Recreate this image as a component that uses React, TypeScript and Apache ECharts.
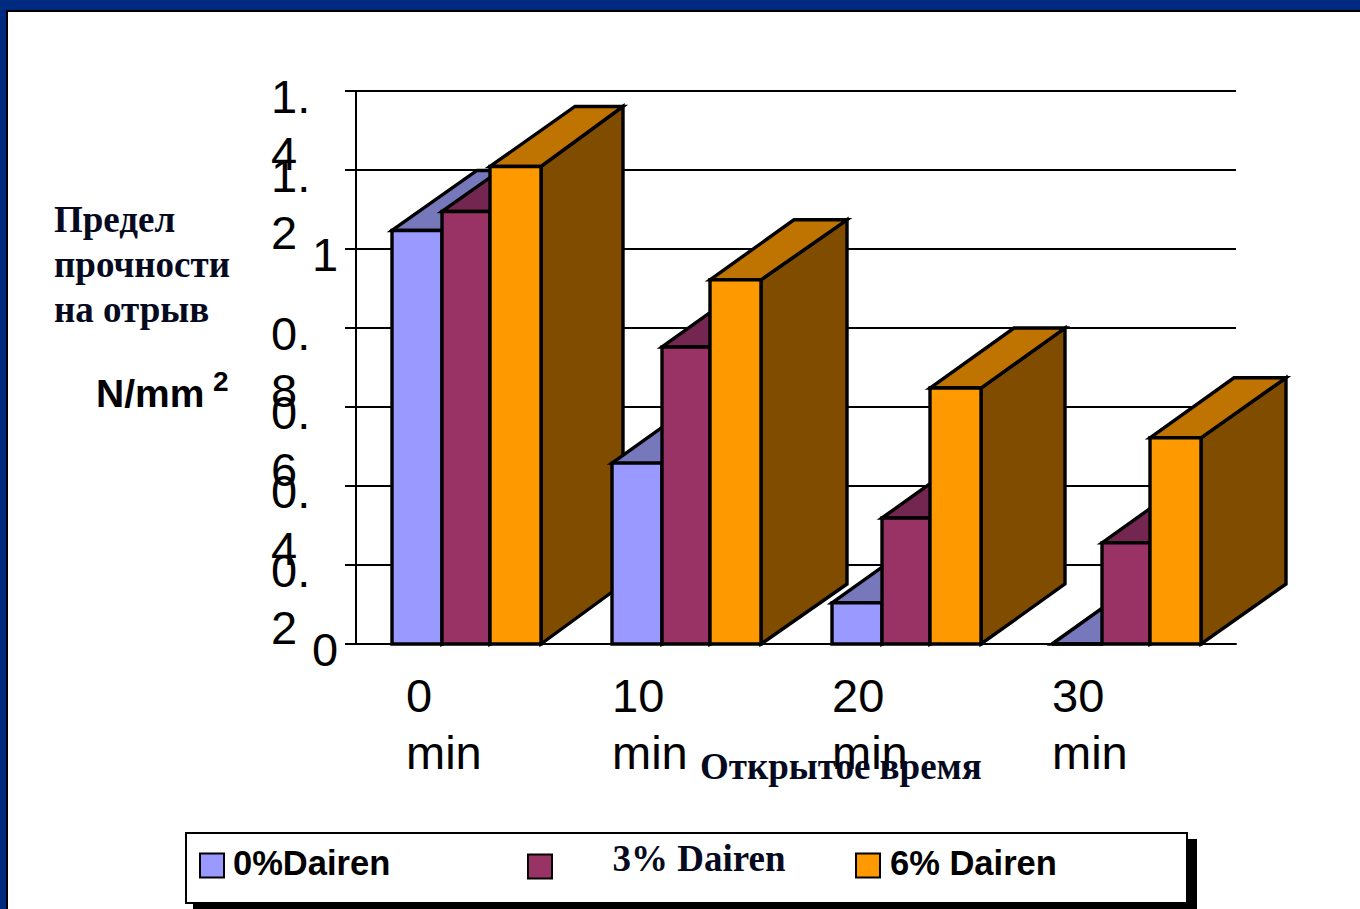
import React, { useEffect, useRef } from "react";
import * as echarts from "echarts";

const categories = ["0 min", "10 min", "20 min", "30 min"];
const seriesNames = ["0%Dairen", "3% Dairen", "6% Dairen"];
const dairen0 = [1.047, 0.458, 0.104, 0];
const dairen3 = [1.095, 0.752, 0.319, 0.256];
const dairen6 = [1.209, 0.922, 0.648, 0.522];
const labelsOnFirstAxis = ["0.2", "0.6", "1", "1.4"];
const labelsOnSecondAxis = ["0", "0.4", "0.8", "1.2"];

const SANS = "'Liberation Sans', Arial, sans-serif";
const SERIF = "'Liberation Serif', 'Times New Roman', serif";
const INK = "#050a20";

const faces = [
  { front: "#9999FF", top: "#7777BB", side: "#4D4D80", left: -74, right: -24 },
  { front: "#993366", top: "#732650", side: "#4D1A33", left: -24, right: 24 },
  { front: "#FF9900", top: "#BF7300", side: "#804D00", left: 24, right: 75 },
];
const depthLeft = [85, 84, 84, 84];
const depthRight = [82, 86, 84, 85];
const DY = -60;

function makeSeries(idx: number, name: string, values: number[]) {
  const face = faces[idx];
  return {
    type: "custom",
    name,
    coordinateSystem: "cartesian2d",
    xAxisIndex: 0,
    yAxisIndex: 0,
    itemStyle: { color: face.front, borderColor: "#000", borderWidth: 3 },
    encode: { x: 0, y: 1 },
    data: values.map((v, i) => [i, v]),
    renderItem: (_p: any, api: any) => {
      const cat = api.value(0);
      const top = api.coord([cat, api.value(1)]);
      const base = api.coord([cat, 0]);
      const xl = base[0] + face.left;
      const xr = base[0] + face.right;
      const bl = xl + depthLeft[cat];
      const br = xr + depthRight[cat];
      const yt = top[1];
      const yb = base[1];
      const z2 = cat * 10 + idx;
      const stroke = { stroke: "#000", lineWidth: 3.4, lineJoin: "miter" };
      const poly = (points: number[][], fill: string) => ({
        type: "polygon",
        z2,
        shape: { points },
        style: { fill, ...stroke },
      });
      return {
        type: "group",
        children: [
          poly([[xr, yt], [br, yt + DY], [br, yb + DY], [xr, yb]], face.side),
          poly([[xl, yt], [bl, yt + DY], [br, yt + DY], [xr, yt]], face.top),
          poly([[xl, yt], [xr, yt], [xr, yb], [xl, yb]], face.front),
        ],
      };
    },
  };
}

function yLabel(allowed: string[]) {
  return (v: number) => {
    const s = String(Math.round(v * 10) / 10);
    if (!allowed.includes(s)) return "";
    if (!s.includes(".")) return `{c|${s}}`;
    const [a, b] = s.split(".");
    return `{a|${a}.}\n{b|${b}}`;
  };
}

function xLabel(v: string) {
  const [n, u] = v.split(" ");
  const style = n.length === 1 ? "o" : "p";
  return `{${style}|${n}}\n{${style}|${u}}`;
}

export default function App() {
  const ref = useRef<HTMLDivElement>(null);
  useEffect(() => {
    document.body.style.margin = "0";
    const chart = echarts.init(ref.current!, undefined, { renderer: "svg" });
    const fs = 47;
    const legendBase = {
      icon: "rect",
      itemWidth: 24,
      itemHeight: 24,
      itemGap: 0,
      padding: 0,
      selectedMode: false,
      formatter: (n: string) => `{t|${n}}`,
    };
    const yRich = {
      a: { fontFamily: SANS, fontSize: fs, lineHeight: 10, color: "#000" },
      b: { fontFamily: SANS, fontSize: fs, lineHeight: 104, color: "#000" },
      c: { fontFamily: SANS, fontSize: fs, lineHeight: 10, color: "#000", padding: [0, 0, 0, 41] },
    };
    const sansLegend = (leftPad: number) => ({
      rich: {
        t: { fontFamily: SANS, fontWeight: "bold", fontSize: 34.5, color: "#000", padding: [0, 0, 6, leftPad] },
      },
    });
    chart.setOption({
      animation: false,
      backgroundColor: "#fff",
      grid: { left: 356, top: 91, width: 880, height: 553, containLabel: false },
      xAxis: {
        type: "category",
        data: categories,
        axisLine: { lineStyle: { color: "#000", width: 2 } },
        axisTick: { show: false },
        axisLabel: {
          interval: 0,
          align: "left",
          verticalAlign: "top",
          margin: 23,
          padding: [0, 0, 0, -74],
          formatter: xLabel,
          rich: {
            p: { fontFamily: SANS, fontSize: fs, lineHeight: 57, color: "#000" },
            o: { fontFamily: SANS, fontSize: fs, lineHeight: 57, color: "#000", padding: [0, 0, 0, 14] },
          },
        },
      },
      yAxis: [
        {
          type: "value",
          min: 0,
          max: 1.4,
          interval: 0.2,
          axisLine: { show: true, lineStyle: { color: "#000", width: 2 } },
          axisTick: { show: true, length: 11, lineStyle: { color: "#000", width: 2 } },
          splitLine: { show: true, lineStyle: { color: "#000", width: 2 } },
          axisLabel: {
            align: "left",
            verticalAlign: "top",
            margin: 85,
            showMaxLabel: true,
            formatter: yLabel(labelsOnFirstAxis),
            rich: yRich,
          },
        },
        {
          type: "value",
          position: "left",
          min: 0,
          max: 1.4,
          interval: 0.2,
          axisLine: { show: false },
          axisTick: { show: false },
          splitLine: { show: false },
          axisLabel: {
            align: "left",
            verticalAlign: "top",
            margin: 85,
            showMinLabel: true,
            formatter: yLabel(labelsOnSecondAxis),
            rich: yRich,
          },
        },
      ],
      legend: [
        {
          ...legendBase,
          data: [seriesNames[0]],
          left: 199,
          top: 845,
          textStyle: sansLegend(4),
        },
        {
          ...legendBase,
          data: [seriesNames[1]],
          left: 527,
          top: 840,
          textStyle: {
            rich: {
              t: { fontFamily: SERIF, fontWeight: "bold", fontSize: 37, color: INK, padding: [0, 0, 16, 55.5] },
            },
          },
        },
        {
          ...legendBase,
          data: [seriesNames[2]],
          left: 855,
          top: 845,
          textStyle: sansLegend(5),
        },
      ],
      graphic: [
        { type: "rect", shape: { x: 0, y: 0, width: 1360, height: 10 }, style: { fill: "#002A7F" } },
        { type: "rect", shape: { x: 0, y: 0, width: 6, height: 909 }, style: { fill: "#002A7F" } },
        { type: "rect", shape: { x: 6, y: 10, width: 1354, height: 2 }, style: { fill: "#000" } },
        { type: "rect", shape: { x: 6, y: 10, width: 2, height: 899 }, style: { fill: "#000" } },
        { type: "rect", shape: { x: 193, y: 839, width: 1004, height: 70 }, style: { fill: "#000" } },
        { type: "rect", shape: { x: 186, y: 833, width: 1001, height: 70 }, style: { fill: "#fff", stroke: "#000", lineWidth: 2 } },
        { type: "text", x: 54, y: 219, style: { text: "Предел", font: `bold 37px ${SERIF}`, fill: INK, verticalAlign: "middle" } },
        { type: "text", x: 54, y: 264, style: { text: "прочности", font: `bold 37px ${SERIF}`, fill: INK, verticalAlign: "middle" } },
        { type: "text", x: 54, y: 309, style: { text: "на отрыв", font: `bold 37px ${SERIF}`, fill: INK, verticalAlign: "middle" } },
        { type: "text", x: 96, y: 393, style: { text: "N/mm", font: `bold 39px ${SANS}`, fill: "#000", verticalAlign: "middle" } },
        { type: "text", x: 213, y: 381, style: { text: "2", font: `bold 28px ${SANS}`, fill: "#000", verticalAlign: "middle" } },
        { type: "text", x: 700, y: 766, z: 10, style: { text: "Открытое время", font: `bold 37px ${SERIF}`, fill: INK, verticalAlign: "middle" } },
      ],
      series: [
        makeSeries(0, seriesNames[0], dairen0),
        makeSeries(1, seriesNames[1], dairen3),
        makeSeries(2, seriesNames[2], dairen6),
      ],
    });
    return () => chart.dispose();
  }, []);
  return <div ref={ref} style={{ position: "fixed", left: 0, top: 0, width: 1360, height: 909 }} />;
}
